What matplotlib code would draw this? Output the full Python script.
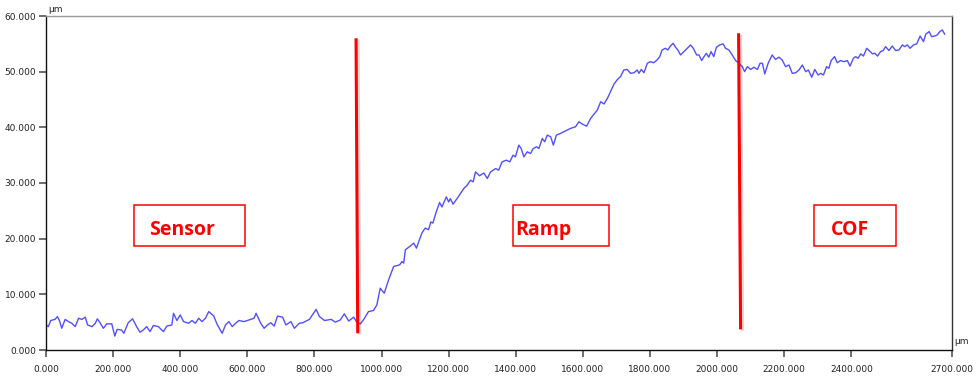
import numpy as np
import matplotlib
matplotlib.use('Agg')
import matplotlib.pyplot as plt
import matplotlib.patheffects as pe
from matplotlib.patches import Rectangle

# profile (x in um, height in um)
x_um = [0, 7, 14, 27, 34, 40, 47, 57, 67, 77, 87, 97, 107, 117, 124, 137, 147, 153, 161, 171,
        181, 196, 205, 212, 225, 232, 245, 258, 270, 280, 290, 300, 310, 320, 335, 350, 360, 375, 380, 390,
        400, 410, 425, 435, 445, 455, 465, 475, 485, 500, 510, 525, 535, 545, 555, 565, 575, 590, 605, 620,
        626, 640, 650, 660, 670, 680, 690, 705, 715, 730, 740, 755, 765, 785, 805, 815, 830, 840, 850, 862,
        877, 889, 902, 917, 927, 937, 947, 961, 976, 986, 996, 1008, 1021, 1036, 1054, 1061, 1066, 1071, 1086, 1096,
        1104, 1111, 1121, 1130, 1140, 1147, 1153, 1163, 1173, 1180, 1193, 1200, 1205, 1213, 1225, 1235, 1245, 1255, 1265, 1273,
        1280, 1292, 1305, 1315, 1325, 1340, 1349, 1359, 1372, 1382, 1392, 1399, 1409, 1416, 1424, 1434, 1444, 1452, 1462, 1469,
        1479, 1486, 1494, 1504, 1512, 1521, 1533, 1543, 1553, 1563, 1578, 1588, 1598, 1611, 1623, 1635, 1643, 1653, 1663, 1673,
        1683, 1693, 1703, 1712, 1722, 1732, 1742, 1752, 1762, 1767, 1774, 1782, 1792, 1801, 1811, 1821, 1829, 1836, 1846, 1853,
        1861, 1869, 1876, 1883, 1891, 1901, 1911, 1921, 1929, 1939, 1946, 1954, 1961, 1968, 1975, 1982, 1990, 1998, 2008, 2018,
        2025, 2035, 2045, 2055, 2065, 2075, 2082, 2090, 2100, 2110, 2120, 2128, 2135, 2142, 2152, 2164, 2174, 2184, 2194, 2204,
        2214, 2224, 2234, 2244, 2254, 2264, 2272, 2282, 2291, 2301, 2309, 2317, 2326, 2333, 2340, 2350, 2358, 2368, 2378, 2388,
        2396, 2406, 2413, 2420, 2428, 2436, 2446, 2456, 2463, 2470, 2478, 2487, 2495, 2502, 2512, 2522, 2532, 2542, 2552, 2559,
        2567, 2575, 2585, 2595, 2605, 2615, 2622, 2632, 2639, 2649, 2656, 2664, 2671, 2678]
z_um = [4.5, 4.2, 5.3, 5.5, 6.0, 5.3, 3.9, 5.5, 5.1, 4.8, 4.2, 5.7, 5.5, 5.9, 4.5, 4.2, 4.8, 5.6, 4.9, 3.9,
        4.7, 4.7, 2.5, 3.7, 3.6, 3.0, 4.9, 5.6, 4.2, 3.2, 3.6, 4.2, 3.3, 4.4, 4.2, 3.3, 4.3, 4.5, 6.6, 5.3,
        6.3, 5.1, 4.8, 5.3, 4.8, 5.7, 5.1, 5.7, 6.9, 6.1, 4.6, 3.0, 4.5, 5.1, 4.2, 4.8, 5.3, 5.1, 5.4, 5.7,
        6.6, 4.8, 3.9, 4.5, 4.9, 4.3, 6.1, 5.9, 4.5, 5.1, 3.9, 4.8, 4.9, 5.5, 7.3, 6.0, 5.3, 5.4, 5.5, 5.0,
        5.4, 6.5, 5.2, 5.9, 4.9, 4.7, 5.5, 6.9, 7.1, 8.1, 11.1, 10.2, 12.6, 15.0, 15.3, 15.9, 15.6, 18.0, 18.7, 19.2,
        18.3, 19.5, 21.1, 21.9, 21.6, 23.0, 22.8, 24.8, 26.5, 25.7, 27.5, 26.6, 27.2, 26.2, 27.2, 28.1, 29.0, 29.6, 30.5, 30.2,
        32.0, 31.3, 31.8, 30.8, 32.0, 32.6, 32.3, 33.8, 34.1, 33.8, 35.0, 34.7, 36.8, 36.2, 34.7, 35.6, 35.3, 36.2, 36.5, 36.2,
        38.0, 37.4, 38.6, 38.3, 36.8, 38.6, 38.9, 39.2, 39.5, 39.8, 40.1, 41.0, 40.6, 40.2, 41.6, 42.5, 43.1, 44.6, 44.2, 45.2,
        46.5, 47.8, 48.6, 49.1, 50.3, 50.4, 49.7, 49.8, 50.3, 49.7, 50.4, 49.8, 51.5, 51.8, 51.6, 52.1, 52.7, 53.9, 54.2, 53.9,
        54.6, 55.1, 54.4, 53.9, 53.0, 53.6, 54.2, 54.8, 54.2, 53.0, 53.0, 52.0, 52.7, 53.3, 52.6, 53.6, 52.7, 54.4, 54.8, 55.0,
        54.2, 53.9, 53.0, 52.0, 51.5, 50.9, 50.0, 50.9, 50.4, 50.8, 50.4, 51.5, 51.5, 49.6, 51.5, 53.0, 52.2, 52.6, 52.1, 50.9,
        51.2, 49.7, 49.8, 50.3, 51.2, 50.0, 50.3, 49.0, 50.4, 49.4, 49.7, 49.4, 50.9, 50.6, 52.0, 52.7, 51.6, 52.0, 51.8, 52.0,
        51.0, 52.4, 52.7, 52.4, 53.2, 52.8, 54.2, 53.6, 53.2, 53.3, 52.8, 53.6, 53.8, 54.5, 53.8, 54.6, 53.8, 53.9, 54.8, 54.5,
        54.8, 54.2, 54.8, 55.0, 56.4, 55.4, 56.75, 57.2, 56.3, 56.4, 56.6, 57.2, 57.5, 56.75]

# red section markers (x bottom/top, y bottom/top)
marker_x = [(929, 924), (2070, 2064)]
marker_y = [(3.0, 56.0), (3.7, 56.9)]

section_names = ['Sensor', 'Ramp', 'COF']

x_ticks = [0, 200, 400, 600, 800, 1000, 1200, 1400, 1600, 1800, 2000, 2200, 2400, 2700]
y_ticks = [0, 10, 20, 30, 40, 50, 60]

fig = plt.figure(figsize=(9.78, 3.84), dpi=100)
ax = fig.add_axes([46/978, 34/384, 906/978, 334/384])

ax.plot(x_um, z_um, color='#5050ff', lw=1.0)

for xs, ys in zip(marker_x, marker_y):
    ax.plot(xs, ys, color='#ff0000', lw=2.2, solid_capstyle='butt',
            path_effects=[pe.SimpleLineShadow(offset=(1.5, -1), alpha=0.15), pe.Normal()])

# label boxes (axes fraction)
boxes = [(0.0971, 0.2196), (0.5155, 0.6214), (0.8477, 0.9382)]
text_x = [0.1137, 0.5177, 0.8664]
for (b0, b1), tx, name in zip(boxes, text_x, section_names):
    ax.add_patch(Rectangle((b0, 0.311), b1 - b0, 0.123, transform=ax.transAxes,
                           fill=False, edgecolor='#ff0000', lw=1.1))
    ax.text(tx, 0.345, name, transform=ax.transAxes, color='#ff0000',
            fontsize=14, fontweight='bold', family='Open Sans', va='baseline')

ax.set_xlim(0, 2700)
ax.set_ylim(0, 60)
ax.set_xticks(x_ticks)
ax.set_yticks(y_ticks)
ax.xaxis.set_major_formatter(matplotlib.ticker.FormatStrFormatter('%.3f'))
ax.yaxis.set_major_formatter(matplotlib.ticker.FormatStrFormatter('%.3f'))
ax.tick_params(axis='both', direction='out', length=5, width=1.2, color='#555555',
               labelsize=6.5, labelcolor='#222222', pad=2)
ax.tick_params(axis='x', pad=6)

ax.spines['left'].set_color('#111111')
ax.spines['bottom'].set_color('#111111')
ax.spines['top'].set_color('#999999')
ax.spines['right'].set_color('#333333')
for s in ax.spines.values():
    s.set_linewidth(1.0)

ax.text(0.003, 1.006, 'µm', transform=ax.transAxes, fontsize=6.5, color='#222222', va='bottom')
ax.text(1.002, 0.012, 'µm', transform=ax.transAxes, fontsize=6.5, color='#222222', va='bottom')

fig.savefig('out.png', dpi=100)
